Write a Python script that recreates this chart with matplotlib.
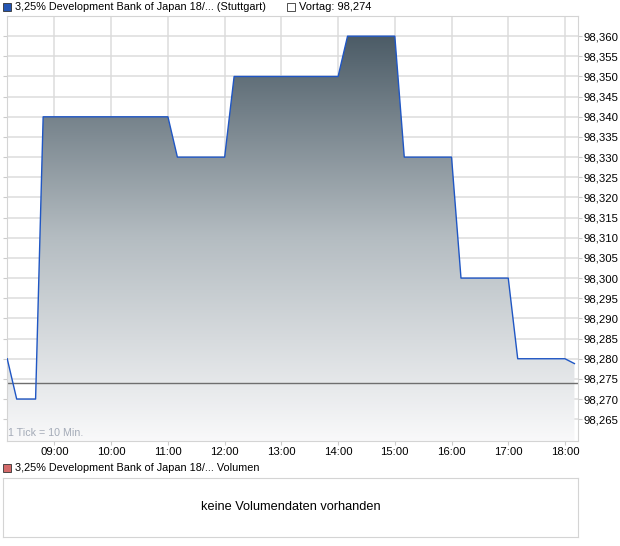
import matplotlib
matplotlib.use("Agg")
import matplotlib.pyplot as plt
import numpy as np
from matplotlib.colors import LinearSegmentedColormap
from matplotlib.patches import Rectangle
from matplotlib.ticker import FuncFormatter

plt.rcParams['font.family'] = ['Liberation Sans', 'DejaVu Sans']

# intraday quotes (time, price)
times = ["08:10", "08:20", "08:40", "08:48", "11:00", "11:10", "12:00", "12:10",
         "14:00", "14:10", "15:00", "15:10", "16:00", "16:10", "17:00", "17:10",
         "18:00", "18:10"]
prices = [98.280, 98.270, 98.270, 98.340, 98.340, 98.330, 98.330, 98.350,
          98.350, 98.360, 98.360, 98.330, 98.330, 98.300, 98.300, 98.280,
          98.280, 98.2788]
prev_close = 98.274
hour_labels = ["09:00", "10:00", "11:00", "12:00", "13:00", "14:00", "15:00",
               "16:00", "17:00", "18:00"]
y_ticks = [98.265 + 0.005 * i for i in range(20)]

title = "3,25% Development Bank of Japan 18/... (Stuttgart)"
vol_title = "3,25% Development Bank of Japan 18/... Volumen"


def to_hours(s):
    h, m = s.split(":")
    return int(h) + int(m) / 60.0


x = np.array([to_hours(t) for t in times])
y = np.array(prices)

W, H = 620, 546
fig = plt.figure(figsize=(W / 100, H / 100), dpi=100)

# main price axes
ax = fig.add_axes([7 / W, 1 - 441 / H, (578 - 7) / W, (441 - 16) / H])
xmin, xmax = 8.1626, 18.2296
ymin, ymax = 98.2596, 98.365
ax.set_xlim(xmin, xmax)
ax.set_ylim(ymin, ymax)

grid_c = "#dcdcdc"
ax.set_yticks(y_ticks)
ax.set_xticks([to_hours(h) for h in hour_labels])
ax.set_xticklabels(hour_labels)
ax.grid(True, color=grid_c, linewidth=1.1, zorder=0)
ax.set_axisbelow(True)

# gradient fill below the curve
cmap = LinearSegmentedColormap.from_list("g", ["#f9f9fa", "#b4bcc1", "#4a5a65"])
grad = np.linspace(0, 1, 256).reshape(-1, 1)
im = ax.imshow(grad, extent=[xmin, xmax, ymin, 98.361], origin="lower",
               aspect="auto", cmap=cmap, zorder=1)
poly = ax.fill_between(x, y, ymin, color="none", linewidth=0)
clip = poly.get_paths()[0]
im.set_clip_path(clip, transform=ax.transData)

ax.plot(x, y, color="#1f56c4", linewidth=1.0, zorder=3)
ax.axhline(prev_close, color="#6e6e6e", linewidth=1.0, zorder=2)

ax.yaxis.tick_right()
ax.yaxis.set_major_formatter(FuncFormatter(lambda v, p: f"{v:.3f}".replace(".", ",")))
ax.tick_params(axis="y", which="both", left=True, right=True, labelright=True,
               labelleft=False, length=3, color="#cccccc", labelsize=8.2, pad=1)
ax.tick_params(axis="x", length=3, color="#cccccc", labelsize=8.2, pad=1)
for s in ["left", "right", "bottom", "top"]:
    ax.spines[s].set_color("#d4d4d4")
ax.text(0.002, 0.006, "1 Tick = 10 Min.", transform=ax.transAxes, fontsize=7.7,
        color="#a4abb8", ha="left", va="bottom", zorder=4)

# header legend
fig.patches.append(Rectangle((3 / W, 1 - 11 / H), 8 / W, 8 / H, transform=fig.transFigure,
                             facecolor="#2455b3", edgecolor="#333333", linewidth=0.6))
fig.text(15 / W, 1 - 7 / H, title, fontsize=7.8, va="center", ha="left")
fig.patches.append(Rectangle((287 / W, 1 - 11 / H), 8 / W, 8 / H, transform=fig.transFigure,
                             facecolor="white", edgecolor="#333333", linewidth=0.6))
fig.text(299 / W, 1 - 7 / H, f"Vortag: {prev_close:.3f}".replace(".", ","),
         fontsize=8.0, va="center", ha="left")

# volume panel
fig.patches.append(Rectangle((3 / W, 1 - 472 / H), 8 / W, 8 / H, transform=fig.transFigure,
                             facecolor="#d46a6a", edgecolor="#333333", linewidth=0.6))
fig.text(15 / W, 1 - 468 / H, vol_title, fontsize=7.8, va="center", ha="left")
vax = fig.add_axes([3 / W, 1 - 537 / H, (578 - 3) / W, (537 - 478) / H])
vax.set_xticks([])
vax.set_yticks([])
for s in vax.spines.values():
    s.set_color("#d4d4d4")
vax.text(0.5, 0.5, "keine Volumendaten vorhanden", transform=vax.transAxes,
         ha="center", va="center", fontsize=9.2)

plt.savefig("out.png", dpi=100)
